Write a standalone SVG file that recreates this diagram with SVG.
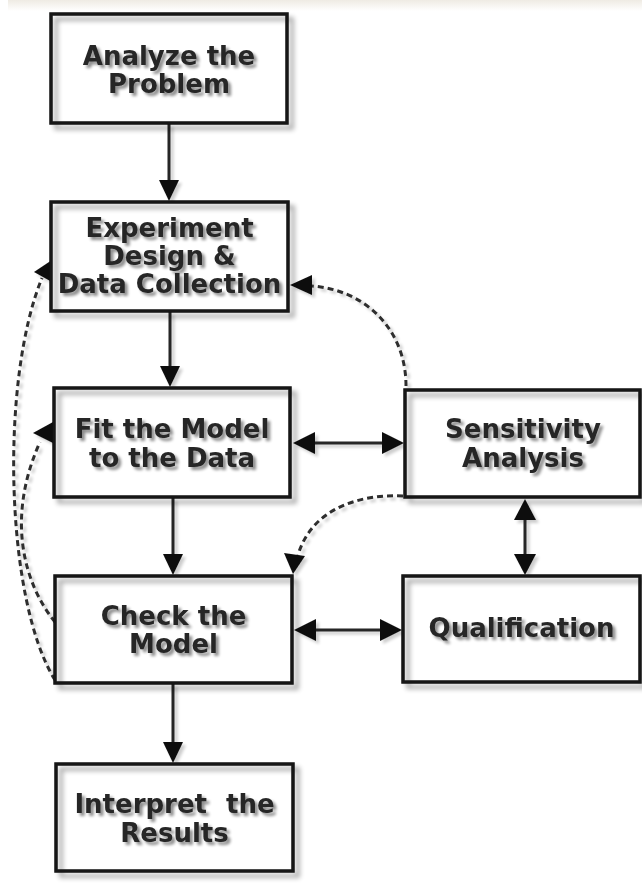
<svg xmlns="http://www.w3.org/2000/svg" width="642" height="886" viewBox="0 0 642 886">
  <defs>
    <linearGradient id="topband" x1="0" y1="0" x2="0" y2="1">
      <stop offset="0" stop-color="#efebe3"/>
      <stop offset="1" stop-color="#ffffff"/>
    </linearGradient>
    <!-- soft shadow cast by the box frames (falls outside bottom/right and inside top/left) -->
    <filter id="frameShadow" x="-10%" y="-10%" width="125%" height="130%">
      <feGaussianBlur in="SourceAlpha" stdDeviation="2.6"/>
      <feOffset dx="5" dy="5" result="b"/>
      <feComponentTransfer in="b" result="s">
        <feFuncA type="linear" slope="0.36"/>
      </feComponentTransfer>
      <feMerge>
        <feMergeNode in="s"/>
        <feMergeNode in="SourceGraphic"/>
      </feMerge>
    </filter>
    <filter id="textShadow" x="-10%" y="-30%" width="125%" height="170%">
      <feGaussianBlur in="SourceAlpha" stdDeviation="1.8"/>
      <feOffset dx="3" dy="3" result="b"/>
      <feComponentTransfer in="b" result="s">
        <feFuncA type="linear" slope="0.45"/>
      </feComponentTransfer>
      <feMerge>
        <feMergeNode in="s"/>
        <feMergeNode in="SourceGraphic"/>
      </feMerge>
    </filter>
    <filter id="lineShadow" x="-20%" y="-20%" width="140%" height="140%">
      <feGaussianBlur in="SourceAlpha" stdDeviation="1.5"/>
      <feOffset dx="3" dy="3" result="b"/>
      <feComponentTransfer in="b" result="s">
        <feFuncA type="linear" slope="0.2"/>
      </feComponentTransfer>
      <feMerge>
        <feMergeNode in="s"/>
        <feMergeNode in="SourceGraphic"/>
      </feMerge>
    </filter>
  </defs>
  <style>
    .bg { fill: #ffffff; }
    .frame { fill: none; stroke: #151515; stroke-width: 3.5; filter: url(#frameShadow); }
    .label { font-family: "DejaVu Sans", Verdana, sans-serif; font-weight: bold; font-size: 26px; fill: #262626; text-anchor: middle; filter: url(#textShadow); }
    .solid { fill: none; stroke: #262626; stroke-width: 3; }
    .dash { fill: none; stroke: #2e2e2e; stroke-width: 3; stroke-dasharray: 6 4; }
    .head { fill: #111111; stroke: none; }
  </style>

  <rect x="0" y="0" width="642" height="886" fill="#ffffff"/>
  <rect x="8" y="0" width="634" height="11" fill="url(#topband)"/>

  <!-- connectors -->
  <g id="connectors" filter="url(#lineShadow)">
    <!-- main vertical flow -->
    <line class="solid" x1="169" y1="124" x2="169" y2="184"/>
    <polygon class="head" points="159,180 179,180 169,201"/>
    <line class="solid" x1="170" y1="312" x2="170" y2="370"/>
    <polygon class="head" points="160,366 180,366 170,387"/>
    <line class="solid" x1="173" y1="498" x2="173" y2="558"/>
    <polygon class="head" points="163,554 183,554 173,575"/>
    <line class="solid" x1="173" y1="684" x2="173" y2="746"/>
    <polygon class="head" points="163,742 183,742 173,763"/>

    <!-- Fit <-> Sensitivity -->
    <line class="solid" x1="310" y1="443" x2="386" y2="443"/>
    <polygon class="head" points="293,443 315,432 315,454"/>
    <polygon class="head" points="404,443 382,432 382,454"/>
    <!-- Check <-> Qualification -->
    <line class="solid" x1="312" y1="630" x2="384" y2="630"/>
    <polygon class="head" points="294,630 316,619 316,641"/>
    <polygon class="head" points="402,630 380,619 380,641"/>
    <!-- Sensitivity <-> Qualification -->
    <line class="solid" x1="525" y1="516" x2="525" y2="557"/>
    <polygon class="head" points="525,499 514,520 536,520"/>
    <polygon class="head" points="525,575 514,554 536,554"/>

    <!-- dashed feedback paths -->
    <path class="dash" d="M406,386 C406,330 366,290 312,286"/>
    <polygon class="head" points="290,285 312,275 312,295"/>
    <path class="dash" d="M403,496 C360,494 312,508 298,555"/>
    <polygon class="head" points="293,574 284,553 305,556"/>
    <path class="dash" d="M55,680 C5,600 0,380 42,278"/>
    <polygon class="head" points="52,260 52,282 34,272"/>
    <path class="dash" d="M55,622 C25,585 5,520 40,442"/>
    <polygon class="head" points="53,422 53,443 33,433"/>
  </g>

  <!-- nodes -->
  <g id="analyze">
    <rect class="bg" x="51" y="14" width="236" height="109"/>
    <rect class="frame" x="51" y="14" width="236" height="109"/>
    <text class="label" x="169" y="65">Analyze the</text>
    <text class="label" x="169" y="93">Problem</text>
  </g>
  <g id="experiment">
    <rect class="bg" x="51" y="202" width="237" height="109"/>
    <rect class="frame" x="51" y="202" width="237" height="109"/>
    <text class="label" x="169.5" y="237">Experiment</text>
    <text class="label" x="169.5" y="265">Design &amp;</text>
    <text class="label" x="169.5" y="293">Data Collection</text>
  </g>
  <g id="fit">
    <rect class="bg" x="54" y="388" width="236" height="109"/>
    <rect class="frame" x="54" y="388" width="236" height="109"/>
    <text class="label" x="172" y="438">Fit the Model</text>
    <text class="label" x="172" y="467">to the Data</text>
  </g>
  <g id="sensitivity">
    <rect class="bg" x="405" y="390" width="235" height="107"/>
    <rect class="frame" x="405" y="390" width="235" height="107"/>
    <text class="label" x="523" y="438">Sensitivity</text>
    <text class="label" x="523" y="467">Analysis</text>
  </g>
  <g id="check">
    <rect class="bg" x="55" y="576" width="237" height="107"/>
    <rect class="frame" x="55" y="576" width="237" height="107"/>
    <text class="label" x="173.5" y="625">Check the</text>
    <text class="label" x="173.5" y="653">Model</text>
  </g>
  <g id="qualification">
    <rect class="bg" x="403" y="576" width="237" height="106"/>
    <rect class="frame" x="403" y="576" width="237" height="106"/>
    <text class="label" x="521.5" y="637">Qualification</text>
  </g>
  <g id="interpret">
    <rect class="bg" x="56" y="764" width="237" height="107"/>
    <rect class="frame" x="56" y="764" width="237" height="107"/>
    <text class="label" x="174.5" y="813" word-spacing="10">Interpret the</text>
    <text class="label" x="174.5" y="842">Results</text>
  </g>
</svg>
